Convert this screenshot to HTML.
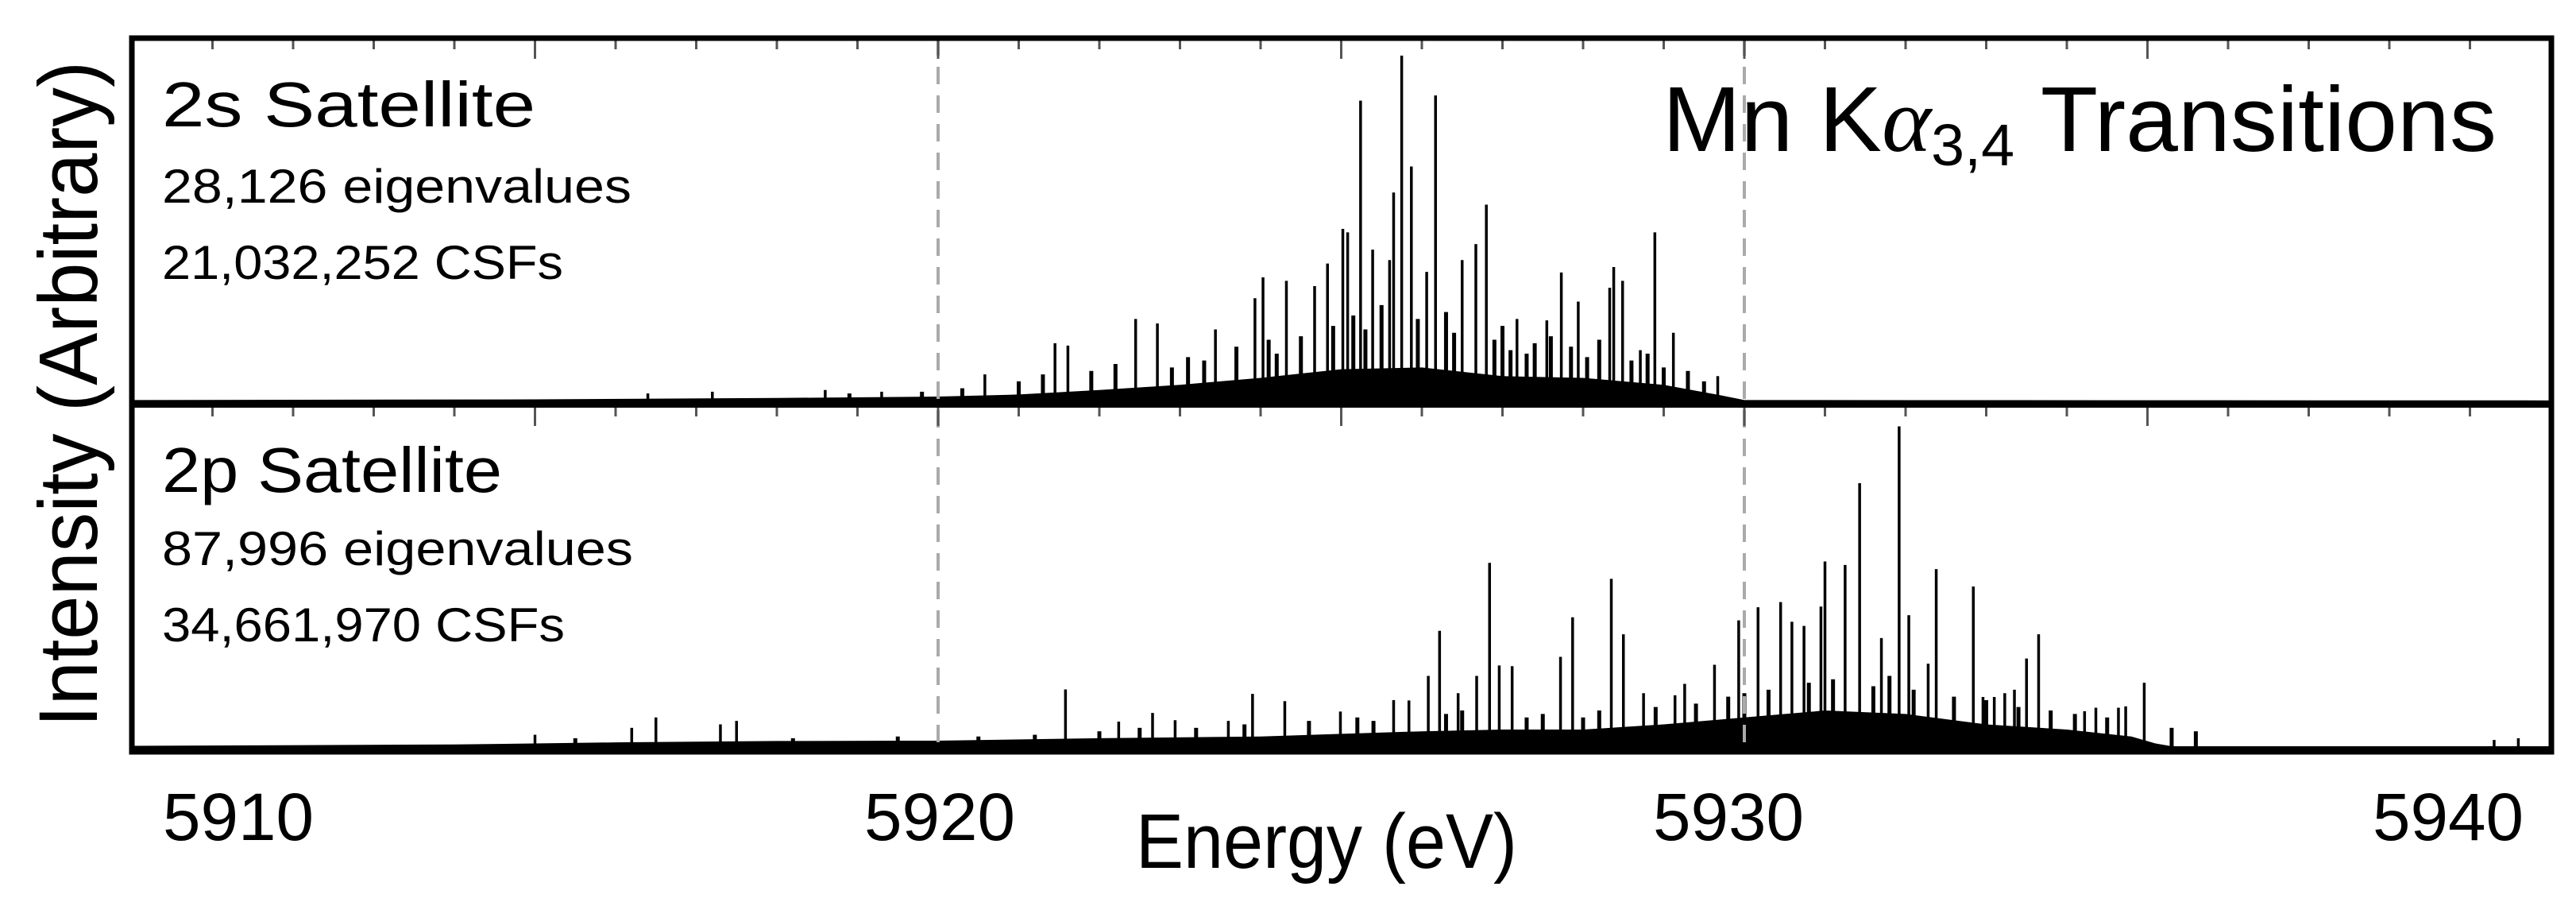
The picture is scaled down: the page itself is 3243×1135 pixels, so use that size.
<!DOCTYPE html>
<html><head><meta charset="utf-8"><style>
html,body{margin:0;padding:0;background:#fff;}
svg{display:block;}
text{font-family:"Liberation Sans","DejaVu Sans",sans-serif;fill:#000;}
</style></head><body>
<svg id="chart" width="3243" height="1135" viewBox="0 0 3243 1135" xmlns="http://www.w3.org/2000/svg">
<rect width="3243" height="1135" fill="#fff"/>
<g id="marks"></g>
<g id="frame"></g>
<text x="204" y="159" font-size="80" textLength="470" lengthAdjust="spacingAndGlyphs">2s Satellite</text>
<text x="204" y="255" font-size="60" textLength="591" lengthAdjust="spacingAndGlyphs">28,126 eigenvalues</text>
<text x="204" y="351" font-size="60" textLength="505" lengthAdjust="spacingAndGlyphs">21,032,252 CSFs</text>
<text x="204" y="619" font-size="80" textLength="428" lengthAdjust="spacingAndGlyphs">2p Satellite</text>
<text x="204" y="711" font-size="60" textLength="593" lengthAdjust="spacingAndGlyphs">87,996 eigenvalues</text>
<text x="204" y="807" font-size="60" textLength="507" lengthAdjust="spacingAndGlyphs">34,661,970 CSFs</text>
<text x="2093" y="190" font-size="116" textLength="1050" lengthAdjust="spacingAndGlyphs">Mn K<tspan font-style="italic" font-family="Liberation Serif, serif">α</tspan><tspan font-size="74" dy="18">3,4</tspan><tspan dy="-18"> Transitions</tspan></text>
<text transform="translate(122,496) rotate(-90)" text-anchor="middle" font-size="105" textLength="838" lengthAdjust="spacingAndGlyphs">Intensity (Arbitrary)</text>
<text x="1670" y="1092" text-anchor="middle" font-size="97" textLength="480" lengthAdjust="spacingAndGlyphs">Energy (eV)</text>
<g id="ticklabels"></g>
</svg>
<script>
const xTickLabels = ["5910","5920","5930","5940"];
const xTickLabelPos = [300,1183,2176,3082];
const peaks2sE = [5925.75,5925.24,5926.17,5925.87,5925.65,5926.8,5928.89,5925.02,5925.08,5925.39,5924.83,5926.67,5926.5,5924.03,5924.32,5924.67,5925.6,5926.06,5927.73,5928.38,5928.49,5928.33,5927.94,5927.18,5923.93,5922.45,5922.72,5923.44,5921.45,5921.61,5929.12,5927.55,5928.71,5929.67,5920.58,5917.2,5918.6,5916.4,5919.3];
const peaks2sI = [100,87,88.5,68,60.5,57,49,50,49,44,40,45.6,41,36,35,33.5,41,37.6,37.4,39,35,33,29,24,30,24,22.7,21,17,16.3,20,23.6,15,7.5,8,3,3.5,2.5,3];
const minor2sE = [5921.0,5921.3,5921.9,5922.2,5922.9,5923.1,5923.3,5923.7,5924.1,5924.2,5924.5,5924.9,5925.15,5925.3,5925.5,5925.95,5926.3,5926.4,5926.9,5927.0,5927.1,5927.3,5927.4,5927.6,5927.85,5928.05,5928.2,5928.6,5928.8,5929.0,5929.3,5929.5,5920.3,5919.8,5918.9];
const minor2sI = [6,8,9,11,10,13,12,16,18,14,19,22,25,21,28,24,26,20,18,22,15,14,17,19,16,13,18,12,14,10,9,6,4,3,2.5];
const peaks2pE = [5931.92,5931.43,5931.0,5931.25,5932.38,5932.84,5926.84,5928.35,5930.17,5930.45,5930.95,5929.93,5930.59,5930.74,5932.04,5927.87,5926.22,5928.5,5933.65,5931.7,5933.5,5927.72,5926.08,5926.96,5927.12,5926.68,5929.63,5934.96,5932.28,5921.58,5923.9,5924.3,5925.65,5925.84,5926.45,5933.35,5932.96,5933.1,5933.23,5934.36,5934.64,5934.73,5934.22,5922.66,5922.94,5922.24,5923.6,5924.99,5928.75,5929.14,5929.26,5916.5,5917.3,5917.5,5916.2,5915.0,5939.6,5939.3];
const peaks2pI = [93,76.6,54,53,51.8,46.8,53.6,49,40.8,42.3,41,37,36.6,35.4,38.5,37.9,34,33,33,31.9,26,26.5,21,24,23.8,21,24.2,19,24.5,17.1,15.8,13.7,14,13.9,16,17,14.9,14.9,16,11.8,11.8,12.2,10.8,10.3,8.2,7.8,8,10.7,16,15.4,18.7,9,7,8,6,4,3,2.5];
const minor2pE = [5922.0,5922.5,5923.2,5923.8,5924.6,5925.2,5925.4,5926.3,5926.5,5927.3,5927.5,5928.0,5928.2,5928.9,5929.4,5929.8,5930.0,5930.3,5930.8,5931.1,5931.6,5931.8,5932.1,5932.6,5933.0,5933.4,5933.8,5934.1,5934.5,5935.3,5935.6,5915.5,5918.2,5919.5,5920.5,5921.2];
const minor2pI = [5,6,6,7,8,9,8,10,11,9,10,9,11,12,13,15,16,17,19,20,18,21,17,15,14,12,11,10,9,6,5,3,3,3.5,3.5,4];
const env2sE = [5910,5915,5918,5920,5921,5922,5923,5924,5925,5926,5927,5928,5929,5929.7,5930,5940];
const env2sI = [0.6,0.8,1.2,1.6,2.2,3.5,5,7,9.5,10,7.5,7,5,2,0.6,0.5];
const env2pE = [5910,5914,5916,5918,5920,5922,5924,5926,5927,5928,5929,5930,5931,5932,5933,5934,5934.8,5935.1,5935.3,5940];
const env2pI = [0.8,1.2,1.8,2.2,2.3,3,3.5,5,5.5,5.5,7,9,11,10,7,5.5,3.5,1.5,0.7,0.7];

const NS="http://www.w3.org/2000/svg";
const L=166,R=3212,T=48,M=510,B=946;
const x = e => 1181 + (e-5920)*101.5;
const yTop = v => 506 - v*4.36;
const yBot = v => 942 - v*4.36;
function mk(tag, attrs, parent){const el=document.createElementNS(NS,tag);for(const k in attrs)el.setAttribute(k,attrs[k]);parent.appendChild(el);return el;}
const marks=document.getElementById('marks'), frame=document.getElementById('frame'), tl=document.getElementById('ticklabels');

function envelope(E,I,yf,base,name){
  let d=`M${x(E[0])},${base}`;
  E.forEach((e,i)=>{d+=` L${x(e)},${yf(I[i])}`;});
  d+=` L${x(E[E.length-1])},${base} Z`;
  const p=mk('path',{d:d,fill:'#000'},marks);
  
  
}
function sticks(E,I,yf,base,name,w){
  E.forEach((e,i)=>{
    const l=mk('line',{x1:x(e),x2:x(e),y1:base,y2:yf(I[i]),stroke:'#000','stroke-width':w},marks);
    
    
  });
}
envelope(env2sE,env2sI,yTop,507,'2s-dense-envelope');
envelope(env2pE,env2pI,yBot,943,'2p-dense-envelope');
sticks(minor2sE,minor2sI,yTop,507,'2s-minor-line',5);
sticks(minor2pE,minor2pI,yBot,943,'2p-minor-line',5);
sticks(peaks2sE,peaks2sI,yTop,507,'2s-transition-line',3.5);
sticks(peaks2pE,peaks2pI,yBot,943,'2p-transition-line',3.5);

[5920,5930].forEach(e=>{
  const d=mk('line',{x1:x(e),x2:x(e),y1:T,y2:B,stroke:'#aaa','stroke-width':4,'stroke-dasharray':'22 14'},frame);
  
  
});
for(let e=5911;e<=5939;e++){
  const major=(e%5===0);
  [T,M].forEach(y0=>{
    const t=mk('line',{x1:x(e),x2:x(e),y1:y0,y2:y0+(major?26:14),stroke:'#555','stroke-width':3},frame);
    
    
  });
}
const fr=mk('rect',{x:L,y:T,width:R-L,height:B-T,fill:'none',stroke:'#000','stroke-width':7},frame);


const mid=mk('line',{x1:L,x2:R,y1:M,y2:M,stroke:'#000','stroke-width':6},frame);


xTickLabels.forEach((s,i)=>{
  const t=mk('text',{x:xTickLabelPos[i],y:1057,'text-anchor':'middle','font-size':84,textLength:190,lengthAdjust:'spacingAndGlyphs'},tl);
  t.textContent=s;
  
  
});
</script>
</body></html>
